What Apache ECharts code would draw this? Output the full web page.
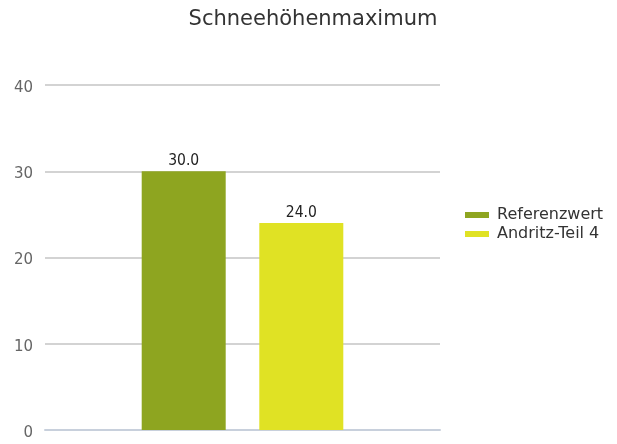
<!DOCTYPE html>
<html><head><meta charset="utf-8">
<script src="https://cdn.jsdelivr.net/npm/echarts@6/dist/echarts.min.js"></script>
<style>html,body{margin:0;padding:0;background:#fff}#c{width:617px;height:444px}</style>
</head><body><div id="c"></div>
<script>
const categories = [''];
const seriesNames = ['Referenzwert', 'Andritz-Teil 4'];
const referenzwert = [30.0];
const andritz = [24.0];
const colors = ['#8ea520', '#e0e224'];
const FONT = 'DejaVu Sans';
const CFONT = 'DejaVu Sans Condensed';
const chart = echarts.init(document.getElementById('c'));
chart.setOption({
  animation: false,
  textStyle: { fontFamily: FONT },
  title: { text: 'Schneehöhenmaximum', left: 308, textAlign: 'center', top: 4,
    textStyle: { fontFamily: FONT, fontSize: 21, fontWeight: 'normal', color: '#333' } },
  legend: { orient: 'vertical', left: 460, top: 202, itemWidth: 24, itemHeight: 6, itemGap: 3,
    icon: 'rect', textStyle: { fontFamily: FONT, fontSize: 16, color: '#333', padding: [0, 0, 0, 3] },
    data: seriesNames },
  grid: { left: 45, right: 177, top: 85, bottom: 14, containLabel: false },
  xAxis: { type: 'category', data: categories,
    axisLine: { lineStyle: { color: '#c8d0dc', width: 2 } }, axisTick: { show: false }, axisLabel: { show: false } },
  yAxis: { type: 'value', min: 0, max: 40, interval: 10,
    axisLine: { show: false }, axisTick: { show: false },
    axisLabel: { fontFamily: FONT, fontSize: 15, color: '#666', margin: 12, verticalAlign: 'top', lineHeight: 6 },
    splitLine: { lineStyle: { color: '#c4c4c4', width: 1.5 } } },
  series: [
    { name: seriesNames[0], type: 'bar', data: referenzwert, barWidth: 84, barGap: '40%',
      itemStyle: { color: colors[0] },
      label: { show: true, position: 'top', distance: 2, formatter: p => p.value.toFixed(1),
        fontFamily: CFONT, fontSize: 15.5, color: '#222' } },
    { name: seriesNames[1], type: 'bar', data: andritz, barWidth: 84, barGap: '40%',
      itemStyle: { color: colors[1] },
      label: { show: true, position: 'top', distance: 2, formatter: p => p.value.toFixed(1),
        fontFamily: CFONT, fontSize: 15.5, color: '#222' } }
  ]
});
</script></body></html>
